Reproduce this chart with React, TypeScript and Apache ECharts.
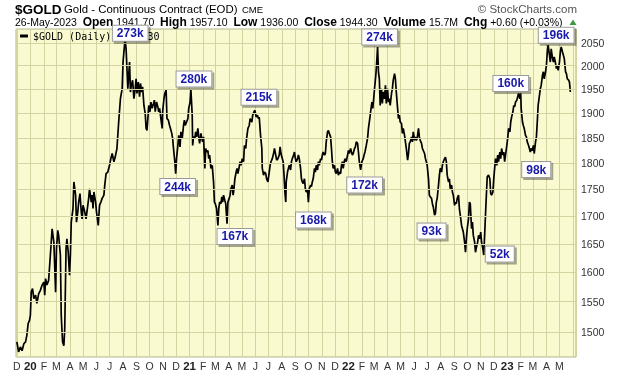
import React, { useEffect, useRef } from "react";
import * as echarts from "echarts";

// ---- data ----
const GOLD_2019: [string, number][] = [
  ["2019-12-01", 1484], ["2019-12-05", 1468], ["2019-12-09", 1476], ["2019-12-13", 1470], ["2019-12-17", 1481],
  ["2019-12-21", 1484], ["2019-12-24", 1495], ["2019-12-27", 1514], ["2019-12-30", 1519],
];
const GOLD_2020: [string, number][] = [
  ["2020-01-01", 1527], ["2020-01-03", 1566], ["2020-01-06", 1572], ["2020-01-09", 1555], ["2020-01-13", 1561],
  ["2020-01-16", 1547], ["2020-01-20", 1563], ["2020-01-24", 1569], ["2020-01-28", 1578], ["2020-02-01", 1583],
  ["2020-02-03", 1561], ["2020-02-05", 1589], ["2020-02-08", 1578], ["2020-02-12", 1586], ["2020-02-16", 1630],
  ["2020-02-20", 1677], ["2020-02-24", 1653], ["2020-02-28", 1566], ["2020-03-01", 1641], ["2020-03-04", 1674],
  ["2020-03-06", 1665], ["2020-03-10", 1630], ["2020-03-12", 1527], ["2020-03-15", 1484], ["2020-03-18", 1478],
  ["2020-03-20", 1505], ["2020-03-23", 1641], ["2020-03-25", 1659], ["2020-03-28", 1635], ["2020-03-31", 1595],
  ["2020-04-02", 1630], ["2020-04-04", 1689], ["2020-04-08", 1714], ["2020-04-10", 1764], ["2020-04-14", 1739],
  ["2020-04-16", 1689], ["2020-04-19", 1708], ["2020-04-21", 1726], ["2020-04-24", 1742], ["2020-04-27", 1708],
  ["2020-04-29", 1695], ["2020-05-01", 1720], ["2020-05-05", 1708], ["2020-05-08", 1695], ["2020-05-11", 1714],
  ["2020-05-14", 1733], ["2020-05-16", 1751], ["2020-05-20", 1726], ["2020-05-22", 1739], ["2020-05-24", 1714],
  ["2020-05-26", 1745], ["2020-05-30", 1726], ["2020-06-01", 1708], ["2020-06-05", 1683], ["2020-06-08", 1720],
  ["2020-06-11", 1726], ["2020-06-14", 1733], ["2020-06-18", 1739], ["2020-06-20", 1758], ["2020-06-23", 1780],
  ["2020-06-27", 1783], ["2020-07-01", 1796], ["2020-07-04", 1809], ["2020-07-07", 1819], ["2020-07-11", 1803],
  ["2020-07-14", 1812], ["2020-07-18", 1829], ["2020-07-22", 1882], ["2020-07-26", 1930], ["2020-07-30", 1951],
  ["2020-08-01", 2008], ["2020-08-03", 2030], ["2020-08-06", 2056], ["2020-08-08", 2037], ["2020-08-12", 1951],
  ["2020-08-16", 2008], ["2020-08-18", 1944], ["2020-08-20", 1958], ["2020-08-23", 1969], ["2020-08-26", 1930],
  ["2020-08-29", 1951], ["2020-08-31", 1972], ["2020-09-02", 1941], ["2020-09-05", 1965], ["2020-09-08", 1934],
  ["2020-09-10", 1962], ["2020-09-13", 1944], ["2020-09-15", 1955], ["2020-09-18", 1916], ["2020-09-21", 1899],
  ["2020-09-23", 1869], ["2020-09-25", 1865], ["2020-09-27", 1889], ["2020-09-29", 1916], ["2020-10-02", 1903],
  ["2020-10-04", 1923], ["2020-10-07", 1910], ["2020-10-10", 1920], ["2020-10-12", 1927], ["2020-10-14", 1903],
  ["2020-10-17", 1923], ["2020-10-20", 1913], ["2020-10-22", 1903], ["2020-10-24", 1910], ["2020-10-26", 1896],
  ["2020-10-28", 1882], ["2020-10-30", 1869], ["2020-10-31", 1903], ["2020-11-03", 1930], ["2020-11-05", 1941],
  ["2020-11-08", 1948], ["2020-11-10", 1889], ["2020-11-13", 1886], ["2020-11-16", 1875], ["2020-11-18", 1869],
  ["2020-11-21", 1859], ["2020-11-23", 1849], ["2020-11-25", 1829], ["2020-11-28", 1803], ["2020-11-30", 1780],
  ["2020-12-02", 1809], ["2020-12-05", 1835], ["2020-12-07", 1855], ["2020-12-10", 1832], ["2020-12-12", 1862],
  ["2020-12-15", 1849], ["2020-12-18", 1875], ["2020-12-20", 1886], ["2020-12-22", 1875], ["2020-12-25", 1882],
  ["2020-12-28", 1889], ["2020-12-30", 1910],
];
const GOLD_2021: [string, number][] = [
  ["2021-01-02", 1923], ["2021-01-04", 1948], ["2021-01-07", 1896], ["2021-01-08", 1835], ["2021-01-10", 1852],
  ["2021-01-13", 1849], ["2021-01-15", 1862], ["2021-01-17", 1852], ["2021-01-20", 1869], ["2021-01-22", 1852],
  ["2021-01-24", 1839], ["2021-01-27", 1859], ["2021-01-29", 1849], ["2021-01-31", 1842], ["2021-02-02", 1852],
  ["2021-02-05", 1790], ["2021-02-07", 1829], ["2021-02-09", 1822], ["2021-02-12", 1825], ["2021-02-14", 1809],
  ["2021-02-16", 1816], ["2021-02-19", 1790], ["2021-02-22", 1796], ["2021-02-25", 1764], ["2021-02-27", 1726],
  ["2021-03-01", 1723], ["2021-03-04", 1714], ["2021-03-07", 1683], ["2021-03-09", 1714], ["2021-03-11", 1726],
  ["2021-03-14", 1723], ["2021-03-16", 1736], ["2021-03-18", 1726], ["2021-03-20", 1739], ["2021-03-23", 1729],
  ["2021-03-25", 1723], ["2021-03-28", 1686], ["2021-03-30", 1726], ["2021-04-02", 1733], ["2021-04-04", 1739],
  ["2021-04-06", 1751], ["2021-04-09", 1758], ["2021-04-11", 1739], ["2021-04-13", 1751], ["2021-04-15", 1770],
  ["2021-04-18", 1783], ["2021-04-20", 1790], ["2021-04-22", 1780], ["2021-04-25", 1793], ["2021-04-27", 1803],
  ["2021-04-29", 1796], ["2021-05-02", 1809], ["2021-05-05", 1803], ["2021-05-07", 1835], ["2021-05-10", 1829],
  ["2021-05-12", 1849], ["2021-05-15", 1869], ["2021-05-18", 1875], ["2021-05-20", 1889], ["2021-05-24", 1882],
  ["2021-05-26", 1896], ["2021-05-29", 1903], ["2021-05-31", 1906], ["2021-06-03", 1892], ["2021-06-06", 1896],
  ["2021-06-08", 1889], ["2021-06-10", 1892], ["2021-06-13", 1855], ["2021-06-16", 1829], ["2021-06-17", 1790],
  ["2021-06-20", 1777], ["2021-06-22", 1783], ["2021-06-25", 1780], ["2021-06-27", 1770], ["2021-06-30", 1764],
  ["2021-07-03", 1783], ["2021-07-05", 1796], ["2021-07-07", 1803], ["2021-07-10", 1809], ["2021-07-13", 1819],
  ["2021-07-15", 1829], ["2021-07-18", 1816], ["2021-07-20", 1806], ["2021-07-23", 1809], ["2021-07-26", 1816],
  ["2021-07-28", 1832], ["2021-07-30", 1819], ["2021-08-01", 1812], ["2021-08-04", 1803], ["2021-08-06", 1777],
  ["2021-08-08", 1745], ["2021-08-10", 1726], ["2021-08-11", 1764], ["2021-08-14", 1783], ["2021-08-16", 1790],
  ["2021-08-18", 1796], ["2021-08-21", 1787], ["2021-08-23", 1803], ["2021-08-25", 1809], ["2021-08-28", 1816],
  ["2021-08-30", 1822], ["2021-09-01", 1809], ["2021-09-03", 1803], ["2021-09-06", 1809], ["2021-09-08", 1816],
  ["2021-09-10", 1809], ["2021-09-13", 1790], ["2021-09-15", 1770], ["2021-09-17", 1764], ["2021-09-19", 1761],
  ["2021-09-22", 1770], ["2021-09-24", 1751], ["2021-09-26", 1745], ["2021-09-29", 1748], ["2021-10-01", 1726],
  ["2021-10-03", 1751], ["2021-10-06", 1758], ["2021-10-08", 1755], ["2021-10-10", 1764], ["2021-10-12", 1770],
  ["2021-10-15", 1790], ["2021-10-17", 1783], ["2021-10-19", 1796], ["2021-10-22", 1787], ["2021-10-24", 1803],
  ["2021-10-26", 1796], ["2021-10-29", 1809], ["2021-10-31", 1806], ["2021-11-02", 1816], ["2021-11-04", 1822],
  ["2021-11-07", 1816], ["2021-11-09", 1819], ["2021-11-11", 1842], ["2021-11-14", 1862], ["2021-11-16", 1865],
  ["2021-11-18", 1859], ["2021-11-21", 1852], ["2021-11-23", 1829], ["2021-11-25", 1803], ["2021-11-27", 1790],
  ["2021-11-30", 1796], ["2021-12-02", 1783], ["2021-12-04", 1780], ["2021-12-07", 1790], ["2021-12-09", 1777],
  ["2021-12-11", 1783], ["2021-12-14", 1780], ["2021-12-16", 1796], ["2021-12-18", 1803], ["2021-12-20", 1790],
  ["2021-12-23", 1806], ["2021-12-25", 1809], ["2021-12-27", 1803], ["2021-12-30", 1816],
];
const GOLD_2022: [string, number][] = [
  ["2022-01-01", 1825], ["2022-01-03", 1819], ["2022-01-06", 1829], ["2022-01-08", 1822], ["2022-01-10", 1816],
  ["2022-01-12", 1819], ["2022-01-15", 1829], ["2022-01-17", 1832], ["2022-01-19", 1842], ["2022-01-22", 1839],
  ["2022-01-24", 1822], ["2022-01-26", 1803], ["2022-01-29", 1787], ["2022-02-01", 1803], ["2022-02-04", 1809],
  ["2022-02-06", 1816], ["2022-02-08", 1822], ["2022-02-11", 1835], ["2022-02-14", 1849], ["2022-02-16", 1869],
  ["2022-02-19", 1889], ["2022-02-21", 1903], ["2022-02-24", 1923], ["2022-02-26", 1910], ["2022-02-28", 1930],
  ["2022-03-02", 1951], ["2022-03-05", 1980], ["2022-03-07", 2008], ["2022-03-09", 2041], ["2022-03-11", 1987],
  ["2022-03-13", 1972], ["2022-03-15", 1916], ["2022-03-18", 1951], ["2022-03-20", 1920], ["2022-03-22", 1944],
  ["2022-03-25", 1930], ["2022-03-27", 1958], ["2022-03-29", 1920], ["2022-04-01", 1951], ["2022-04-03", 1923],
  ["2022-04-05", 1930], ["2022-04-07", 1916], ["2022-04-10", 1941], ["2022-04-12", 1951], ["2022-04-14", 1969],
  ["2022-04-17", 1983], ["2022-04-19", 1972], ["2022-04-21", 1944], ["2022-04-24", 1910], ["2022-04-26", 1889],
  ["2022-04-28", 1896], ["2022-04-30", 1882], ["2022-05-03", 1879], ["2022-05-05", 1859], ["2022-05-07", 1869],
  ["2022-05-10", 1855], ["2022-05-12", 1842], ["2022-05-14", 1829], ["2022-05-17", 1806], ["2022-05-19", 1819],
  ["2022-05-21", 1839], ["2022-05-23", 1842], ["2022-05-26", 1852], ["2022-05-28", 1842], ["2022-05-30", 1862],
  ["2022-06-02", 1845], ["2022-06-04", 1852], ["2022-06-06", 1845], ["2022-06-08", 1849], ["2022-06-11", 1869],
  ["2022-06-13", 1852], ["2022-06-15", 1845], ["2022-06-18", 1839], ["2022-06-20", 1829], ["2022-06-22", 1825],
  ["2022-06-25", 1819], ["2022-06-27", 1809], ["2022-06-29", 1803], ["2022-07-01", 1796], ["2022-07-04", 1770],
  ["2022-07-06", 1739], ["2022-07-08", 1736], ["2022-07-11", 1733], ["2022-07-13", 1723], ["2022-07-15", 1717],
  ["2022-07-18", 1702], ["2022-07-20", 1705], ["2022-07-22", 1726], ["2022-07-24", 1733], ["2022-07-27", 1758],
  ["2022-07-29", 1777], ["2022-07-31", 1790], ["2022-08-03", 1783], ["2022-08-05", 1796], ["2022-08-07", 1803],
  ["2022-08-10", 1809], ["2022-08-12", 1812], ["2022-08-14", 1803], ["2022-08-16", 1777], ["2022-08-19", 1764],
  ["2022-08-21", 1770], ["2022-08-23", 1751], ["2022-08-26", 1758], ["2022-08-28", 1745], ["2022-08-30", 1739],
  ["2022-09-02", 1720], ["2022-09-04", 1726], ["2022-09-06", 1723], ["2022-09-08", 1733], ["2022-09-11", 1739],
  ["2022-09-13", 1714], ["2022-09-15", 1702], ["2022-09-18", 1683], ["2022-09-20", 1677], ["2022-09-22", 1671],
  ["2022-09-25", 1653], ["2022-09-27", 1635], ["2022-09-29", 1659], ["2022-10-01", 1677], ["2022-10-04", 1695],
  ["2022-10-06", 1726], ["2022-10-08", 1723], ["2022-10-11", 1677], ["2022-10-13", 1689], ["2022-10-15", 1665],
  ["2022-10-18", 1653], ["2022-10-20", 1635], ["2022-10-23", 1647], ["2022-10-25", 1653], ["2022-10-27", 1665],
  ["2022-10-30", 1659], ["2022-11-01", 1671], ["2022-11-03", 1653], ["2022-11-06", 1641], ["2022-11-08", 1630],
  ["2022-11-10", 1665], ["2022-11-12", 1702], ["2022-11-14", 1739], ["2022-11-16", 1774], ["2022-11-19", 1777],
  ["2022-11-22", 1770], ["2022-11-24", 1742], ["2022-11-26", 1739], ["2022-11-29", 1745], ["2022-12-01", 1770],
  ["2022-12-03", 1790], ["2022-12-05", 1809], ["2022-12-08", 1796], ["2022-12-10", 1816], ["2022-12-12", 1803],
  ["2022-12-15", 1822], ["2022-12-17", 1809], ["2022-12-19", 1829], ["2022-12-22", 1816], ["2022-12-24", 1822],
  ["2022-12-26", 1803], ["2022-12-28", 1816], ["2022-12-31", 1835],
];
const GOLD_2023: [string, number][] = [
  ["2023-01-02", 1849], ["2023-01-04", 1869], ["2023-01-07", 1862], ["2023-01-09", 1882], ["2023-01-11", 1892],
  ["2023-01-14", 1903], ["2023-01-16", 1916], ["2023-01-18", 1913], ["2023-01-20", 1923], ["2023-01-23", 1927],
  ["2023-01-25", 1934], ["2023-01-27", 1941], ["2023-01-30", 1930], ["2023-02-01", 1941], ["2023-02-02", 1910],
  ["2023-02-05", 1882], ["2023-02-07", 1875], ["2023-02-09", 1869], ["2023-02-12", 1855], ["2023-02-14", 1852],
  ["2023-02-16", 1842], ["2023-02-19", 1835], ["2023-02-21", 1829], ["2023-02-23", 1822], ["2023-02-25", 1829],
  ["2023-02-28", 1825], ["2023-03-02", 1835], ["2023-03-04", 1819], ["2023-03-07", 1842], ["2023-03-09", 1852],
  ["2023-03-11", 1882], ["2023-03-13", 1916], ["2023-03-16", 1937], ["2023-03-18", 1951], ["2023-03-20", 1958],
  ["2023-03-23", 1980], ["2023-03-25", 1987], ["2023-03-27", 1972], ["2023-03-30", 1987], ["2023-04-01", 2001],
  ["2023-04-03", 2030], ["2023-04-05", 2045], ["2023-04-08", 2023], ["2023-04-10", 2008], ["2023-04-12", 2037],
  ["2023-04-15", 2016], ["2023-04-17", 2008], ["2023-04-19", 2019], ["2023-04-22", 2005], ["2023-04-24", 1994],
  ["2023-04-26", 2001], ["2023-04-28", 1990], ["2023-05-01", 2008], ["2023-05-03", 2030], ["2023-05-05", 2041],
  ["2023-05-08", 2030], ["2023-05-10", 2023], ["2023-05-12", 2016], ["2023-05-15", 1987], ["2023-05-17", 1983],
  ["2023-05-19", 1972], ["2023-05-22", 1969], ["2023-05-24", 1965], ["2023-05-25", 1955], ["2023-05-26", 1944],
];

const PRICE_TICKS = [1500, 1550, 1600, 1650, 1700, 1750, 1800, 1850, 1900, 1950, 2000, 2050];

const ANNOTATION_TEXT = ["273k", "280k", "244k", "167k", "215k", "168k", "172k", "274k", "93k", "52k", "160k", "98k", "196k"];
const ANNOTATION_DATE = [
  "2020-08-06", "2021-01-04", "2020-11-30", "2021-03-07", "2021-05-31", "2021-10-01", "2022-01-29",
  "2022-03-09", "2022-07-18", "2022-11-08", "2023-02-01", "2023-03-04", "2023-04-05",
];
const ANNOTATION_PRICE = [2056, 1948, 1780, 1683, 1906, 1726, 1787, 2041, 1702, 1630, 1941, 1819, 2045];

const HEADER = {
  symbol: "$GOLD",
  name: "Gold - Continuous Contract (EOD)",
  exchange: "CME",
  date: "26-May-2023",
  open: "1941.70",
  high: "1957.10",
  low: "1936.00",
  close: "1944.30",
  volume: "15.7M",
  chg: "+0.60 (+0.03%)",
  credit: "\u00A9 StockCharts.com",
  legend: "$GOLD (Daily) 1944.30",
};

const AXIS_START = "2019-11-29";
const AXIS_END = "2023-06-08";

// ---- layout / style (not data) ----
const LABEL_OFFSETS: [number, number][] = [
  [5, -7], [3, -11], [2, 13], [17, 11], [4, -13], [5, 18], [4, 15],
  [2, -10], [-3, 16], [16, -1], [-10, -10], [2, 16], [8, -10],
];
const BG = "#fafad0";
const GRID_LINE = "#d4d4a2";
const FONT = "Liberation Sans";

function toTime(s: string): number {
  const [y, m, d] = s.split("-").map(Number);
  return new Date(y, m - 1, d).getTime();
}

const MONTH_LETTERS = "JFMAMJJASOND";

export default function App() {
  const ref = useRef<HTMLDivElement>(null);

  useEffect(() => {
    if (!ref.current) return;
    const chart = echarts.init(ref.current, null, { renderer: "svg" });
    const gold = [...GOLD_2019, ...GOLD_2020, ...GOLD_2021, ...GOLD_2022, ...GOLD_2023];
    const lastTime = toTime(gold[gold.length - 1][0]);

    const option: any = {
      animation: false,
      textStyle: { fontFamily: FONT },
      grid: {
        left: 16,
        right: 44,
        top: 29,
        bottom: 19,
        show: true,
        backgroundColor: BG,
        borderColor: "#b4b48c",
        borderWidth: 1,
        containLabel: false,
        outerBoundsMode: "none",
      },
      legend: {
        data: ["$GOLD"],
        left: 20,
        top: 31,
        padding: 0,
        icon: "rect",
        itemWidth: 8,
        itemHeight: 3,
        selectedMode: false,
        z: 2,
        formatter: () => HEADER.legend,
        textStyle: { fontFamily: "DejaVu Sans Mono", fontSize: 10, color: "#000" },
      },
      xAxis: {
        type: "time",
        min: toTime(AXIS_START),
        max: toTime(AXIS_END),
        splitNumber: 42,
        minInterval: 28 * 86400000,
        maxInterval: 31 * 86400000,
        axisLine: { show: false },
        axisTick: { show: false },
        splitLine: { show: true, lineStyle: { color: GRID_LINE, width: 1 } },
        axisLabel: {
          margin: 3,
          color: "#333",
          fontSize: 10.5,
          fontFamily: FONT,
          hideOverlap: false,
          showMinLabel: true,
          showMaxLabel: true,
          formatter: (value: number) => {
            const d = new Date(value);
            if (value > lastTime) return "";
            if (d.getDate() !== 1 || d.getHours() !== 0) return "";
            const m = d.getMonth();
            if (m === 0) return "{y|" + String(d.getFullYear()).slice(2) + "}";
            return MONTH_LETTERS[m];
          },
          rich: { y: { fontWeight: "bold", fontSize: 11.5, color: "#222", fontFamily: FONT } },
        },
      },
      yAxis: {
        type: "log",
        logBase: 10,
        min: 1460,
        max: 2081,
        position: "right",
        axisLabel: { show: false },
        axisLine: { show: false },
        axisTick: { show: false },
        splitLine: { show: false },
      },
      series: [
        {
          name: "grid",
          type: "line",
          data: gold,
          z: 1,
          silent: true,
          showSymbol: false,
          symbol: "none",
          lineStyle: { opacity: 0 },
          markLine: {
            silent: true,
            symbol: ["none", "none"],
            animation: false,
            lineStyle: { color: GRID_LINE, width: 1, type: "solid" },
            label: {
              show: true,
              position: "end",
              distance: 5,
              color: "#333",
              fontSize: 10.5,
              fontFamily: FONT,
              formatter: (p: any) => String(p.value),
            },
            emphasis: { disabled: true },
            data: PRICE_TICKS.map((v) => ({ yAxis: v })),
          },
        },
        {
          name: "$GOLD",
          type: "line",
          data: gold,
          z: 3,
          silent: true,
          showSymbol: false,
          symbol: "none",
          lineStyle: { color: "#000", width: 1.7 },
          itemStyle: { color: "#000" },
          markPoint: {
            silent: true,
            symbol: "circle",
            symbolSize: 0.1,
            itemStyle: { color: "rgba(0,0,0,0)" },
            animation: false,
            label: {
              show: true,
              position: "inside",
              formatter: "{b}",
              color: "#1a1aaa",
              fontWeight: "bold",
              fontSize: 12,
              fontFamily: FONT,
              backgroundColor: "#ffffff",
              borderColor: "#9a9a9a",
              borderWidth: 1,
              padding: [2, 4, 1, 4],
              shadowColor: "rgba(0,0,0,0.35)",
              shadowOffsetX: 2,
              shadowOffsetY: 2,
              shadowBlur: 1,
            },
            data: ANNOTATION_TEXT.map((t, i) => ({
              name: t,
              coord: [toTime(ANNOTATION_DATE[i]), ANNOTATION_PRICE[i]],
              label: { offset: LABEL_OFFSETS[i] },
            })),
          },
        },
      ],
      graphic: [
        {
          type: "text",
          x: 15,
          y: 9,
          z: 2,
          style: {
            text: HEADER.symbol,
            fontSize: 13.5,
            fontWeight: "bold",
            fontFamily: FONT,
            fill: "#000",
            textVerticalAlign: "middle",
            verticalAlign: "middle",
          },
        },
        {
          type: "text",
          x: 64,
          y: 9,
          z: 2,
          style: {
            text: HEADER.name,
            fontSize: 11.4,
            fontFamily: FONT,
            fill: "#000",
            textVerticalAlign: "middle",
            verticalAlign: "middle",
          },
        },
        {
          type: "text",
          x: 242,
          y: 9.5,
          z: 2,
          style: {
            text: HEADER.exchange,
            fontSize: 9.5,
            fontFamily: FONT,
            fill: "#000",
            textVerticalAlign: "middle",
            verticalAlign: "middle",
          },
        },
        {
          type: "text",
          x: 577,
          y: 9,
          z: 2,
          style: {
            text: HEADER.credit,
            fontSize: 11.5,
            fontFamily: FONT,
            fill: "#555",
            textAlign: "right",
            align: "right",
            textVerticalAlign: "middle",
            verticalAlign: "middle",
          },
        },
        {
          type: "text",
          x: 15,
          y: 22,
          z: 2,
          style: {
            text:
              `${HEADER.date}  {b|Open} ${HEADER.open}  {b|High} ${HEADER.high}  {b|Low} ${HEADER.low}  ` +
              `{b|Close} ${HEADER.close}  {b|Volume} ${HEADER.volume}  {b|Chg} ${HEADER.chg}`,
            fontSize: 10.5,
            fontFamily: FONT,
            fill: "#000",
            textVerticalAlign: "middle",
            verticalAlign: "middle",
            rich: { b: { fontSize: 12, fontWeight: "bold", fontFamily: FONT, fill: "#000" } },
          },
        },
        {
          type: "polygon",
          z: 2,
          shape: { points: [[569.5, 25], [576.5, 25], [573, 19.5]] },
          style: { fill: "#3a9a3a" },
        },
      ],
    };

    chart.setOption(option);
    return () => chart.dispose();
  }, []);

  return <div ref={ref} style={{ position: "fixed", left: 0, top: 0, width: 620, height: 376 }} />;
}
